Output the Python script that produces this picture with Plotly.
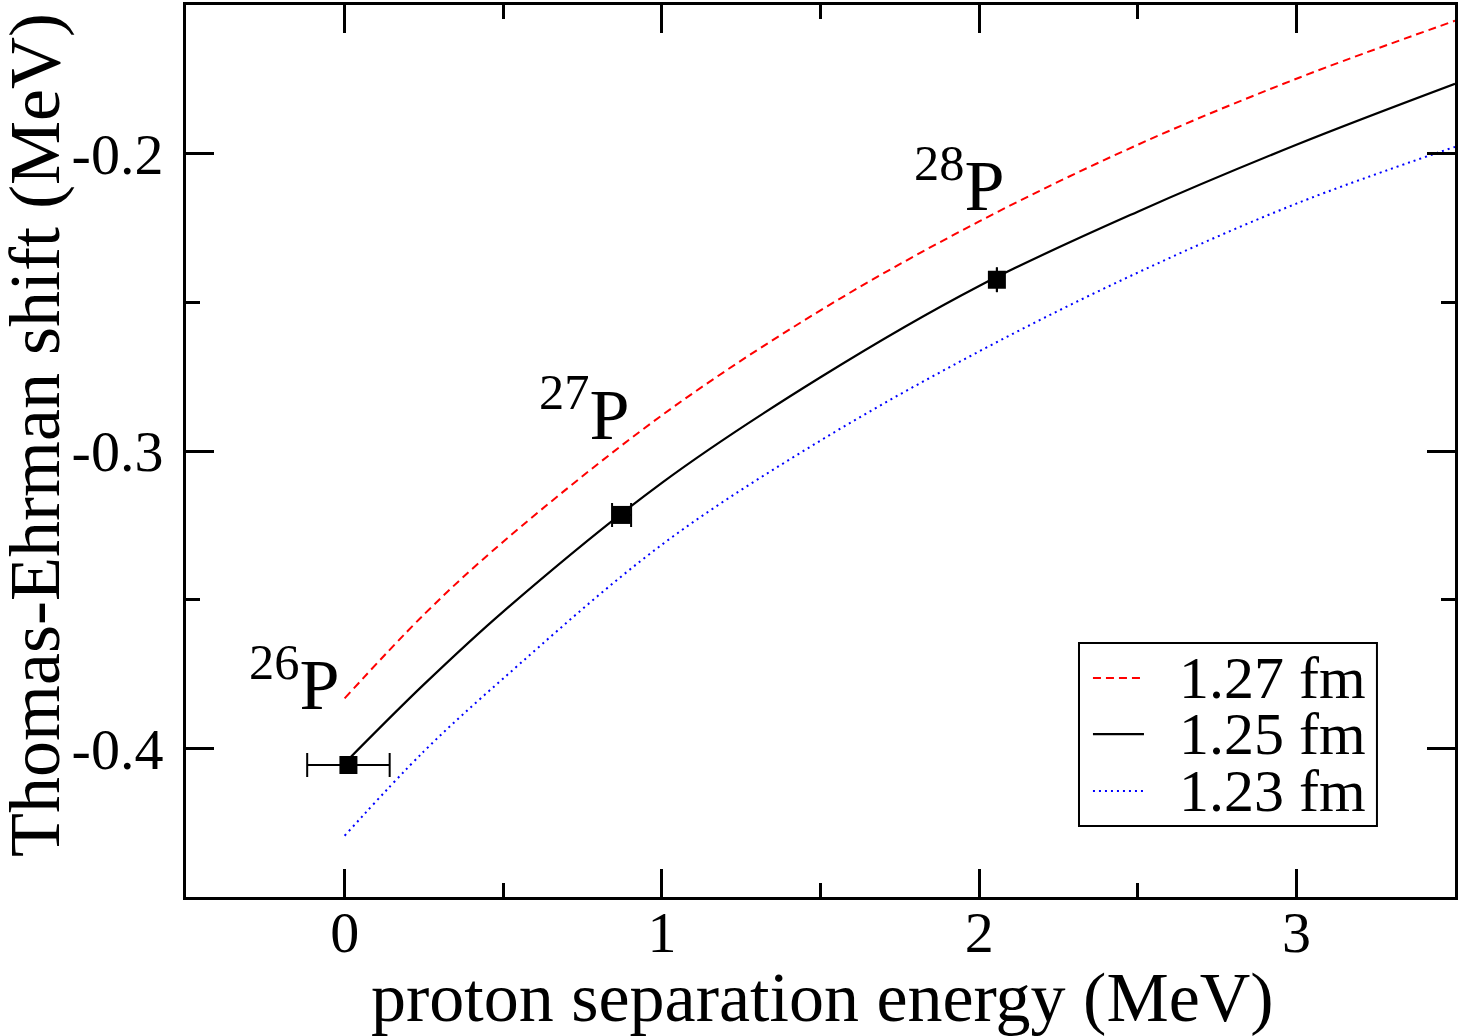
import plotly.graph_objects as go

# Curves (proton separation energy, Thomas-Ehrman shift)
sep_energy = [0.0, 0.25, 0.5, 1.0, 1.5, 2.0, 2.5, 3.0, 3.5]
shift_127 = [-0.3832, -0.355, -0.3305, -0.288, -0.2527, -0.2228, -0.197, -0.1748, -0.1553]
shift_125 = [-0.405, -0.3785, -0.354, -0.3107, -0.2752, -0.2445, -0.2195, -0.197, -0.1765]
shift_123 = [-0.4294, -0.401, -0.3765, -0.3315, -0.2965, -0.2665, -0.240, -0.2168, -0.1977]

series_names = ["1.27 fm", "1.25 fm", "1.23 fm"]
series_colors = ["#ff0000", "black", "#0000ff"]
series_dash = ["8px,5px", "solid", "2px,4px"]
series_width = [2, 2.2, 2]

# Experimental points
nuclei = ["26", "27", "28"]
pt_x = [0.012, 0.873, 2.056]
pt_y = [-0.4056, -0.3215, -0.2424]
pt_xerr = [0.13, 0.03, 0.0]
pt_yerr = [0.0, 0.0, 0.0042]

# Label positions
label_x = [-0.16, 0.755, 1.937]
label_y = [-0.3767, -0.2862, -0.209]

x_ticks = [0, 1, 2, 3]
y_ticks = [-0.4, -0.3, -0.2]

x_title = "proton separation energy (MeV)"
y_title = "Thomas-Ehrman shift (MeV)"

FONT = "Liberation Serif"

fig = go.Figure()
for ys, nm, col, dsh, w in zip([shift_127, shift_125, shift_123], series_names,
                               series_colors, series_dash, series_width):
    fig.add_trace(go.Scatter(x=sep_energy, y=ys, mode="lines", name=nm, showlegend=False,
                             line=dict(color=col, width=w, dash=dsh, shape="spline")))
fig.add_trace(go.Scatter(x=pt_x, y=pt_y, mode="markers", showlegend=False,
                         marker=dict(symbol="square", size=18, color="black"),
                         error_x=dict(type="data", array=pt_xerr, color="black", thickness=2, width=12),
                         error_y=dict(type="data", array=pt_yerr, color="black", thickness=2, width=0)))

for n, lx, ly in zip(nuclei, label_x, label_y):
    fig.add_annotation(x=lx, y=ly, text=f"<sup>{n}</sup>P", showarrow=False,
                       font=dict(family=FONT, size=72, color="black"))

# Manual legend box (paper coordinates)
fig.add_shape(type="rect", xref="paper", yref="paper", x0=0.7037, x1=0.9385, y0=0.0796, y1=0.2848,
              line=dict(color="black", width=2), fillcolor="white", layer="above")
row_y = [0.2455, 0.1827, 0.1188]
for nm, col, dsh, w, ry in zip(series_names, series_colors, series_dash, series_width, row_y):
    fig.add_shape(type="line", xref="paper", yref="paper", x0=0.7147, x1=0.7549, y0=ry, y1=ry,
                  line=dict(color=col, width=w, dash=dsh), layer="above")
    fig.add_annotation(xref="paper", yref="paper", x=0.7809, y=ry, xanchor="left", yanchor="middle",
                       text=nm, showarrow=False, font=dict(family=FONT, size=60, color="black"))

# Axis titles
fig.add_annotation(xref="paper", yref="paper", x=0.5016, y=-0.113, xanchor="center", yanchor="middle",
                   text=x_title, showarrow=False, font=dict(family=FONT, size=70, color="black"))
fig.add_annotation(xref="paper", yref="paper", x=-0.119, y=0.518, xanchor="center", yanchor="middle",
                   text=y_title, textangle=-90, showarrow=False,
                   font=dict(family=FONT, size=72, color="black"))

axis_common = dict(showline=True, linecolor="black", linewidth=3, mirror="ticks",
                   ticks="inside", ticklen=28, tickwidth=3, tickcolor="black",
                   showgrid=False, zeroline=False, automargin=False,
                   tickfont=dict(family=FONT, size=58, color="black"))

fig.update_xaxes(range=[-0.5, 3.5], tickvals=x_ticks, ticktext=[str(v) for v in x_ticks],
                 minor=dict(ticks="inside", ticklen=14, tickwidth=3, tickcolor="black", dtick=0.5),
                 ticklabelstandoff=-18,
                 **axis_common)
fig.update_yaxes(range=[-0.45, -0.15], tickvals=y_ticks, ticktext=[f"{v:.1f}" for v in y_ticks],
                 minor=dict(ticks="inside", ticklen=14, tickwidth=3, tickcolor="black", dtick=0.05, tick0=-0.45),
                 ticklabelstandoff=8,
                 **axis_common)

fig.update_layout(width=1461, height=1036, paper_bgcolor="white", plot_bgcolor="white",
                  margin=dict(l=186, r=6, t=5, b=139),
                  font=dict(family=FONT, color="black"), showlegend=False)

fig.write_html("out.html")
